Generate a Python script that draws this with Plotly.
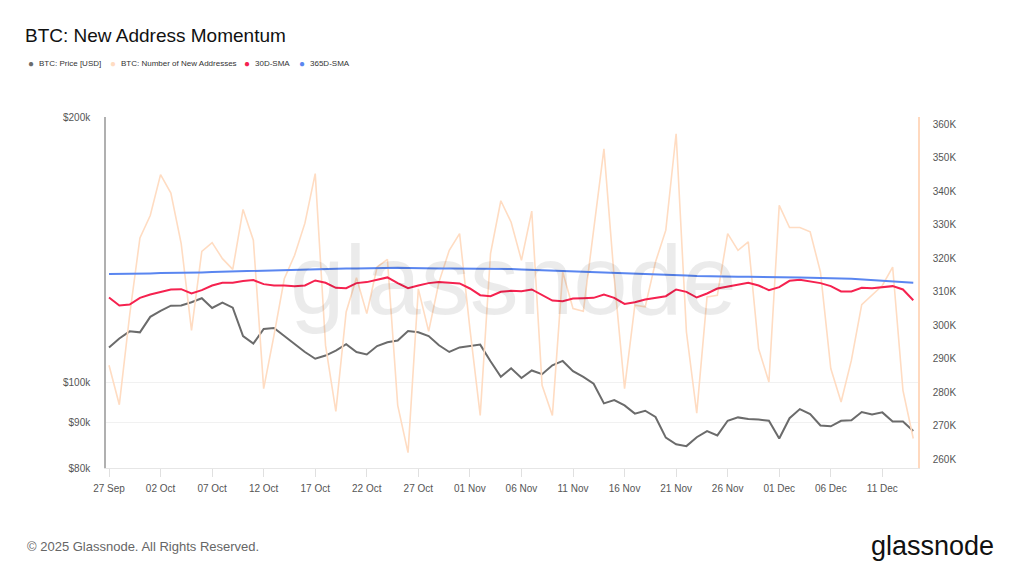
import pandas as pd
import plotly.graph_objects as go

# ---------------- data ----------------
start_date = "2025-09-27"
n_days = 79
dates = pd.date_range(start_date, periods=n_days, freq="D")

price_usd = [
    109600, 112200, 114300, 114000, 118700, 120600, 122200, 122300, 123300, 124600,
    121500, 123200, 121600, 112900, 110700, 115000, 115300, 112900, 110600, 108300,
    106400, 107300, 108700, 110500, 108300, 107600, 110000, 111100, 111600, 114400,
    114000, 112900, 110200, 108300, 109600, 110000, 110400, 105700, 101500,
    103800, 101200, 103200, 102200, 104600, 105800, 103000, 101500, 99700, 94700,
    95500, 94200, 92200, 92900, 91400, 86600, 85100, 84700, 86700, 88100,
    87100, 90500, 91300, 90900, 90800, 90500, 86400, 91100, 93300, 92100,
    89400, 89200, 90500, 90600, 92600, 92000, 92500, 90300, 90300, 88100,
]

new_addresses = [
    288100, 276300, 303000, 326100, 332800, 345000, 339500, 324400, 298500, 322100,
    324700, 319900, 316700, 334600, 325400, 281100, 297000, 313900, 320900, 330500,
    345300, 294000, 274300, 304000, 314200, 303500, 317400, 319700, 276100, 262000,
    310900, 298200, 312900, 322400, 327400, 299000, 273100, 321400, 337200,
    330800, 319400, 334100, 282100, 273100, 315900, 305000, 304200, 327900, 352700,
    314000, 281100, 306000, 305500, 318900, 328400, 357200, 298000, 273800, 308500,
    309000, 327400, 322400, 324900, 293000, 283100, 335800, 329200, 329200, 327900,
    315900, 287100, 277100, 289600, 306200, 309200, 311900, 317400, 280600, 266200,
]

sma_30d = [
    308300, 305900, 306200, 308200, 309200, 309900, 310700, 310800, 309500, 310500,
    311900, 312700, 312700, 313200, 313500, 312300, 311900, 311900, 311700, 311900,
    313400, 312700, 311200, 311100, 312600, 312900, 313600, 314300, 312600, 311100,
    311900, 312600, 312900, 312700, 312500, 311000, 309000, 308700, 310000,
    310300, 310200, 310700, 309000, 307400, 307200, 308000, 308100, 308200, 309200,
    308200, 306400, 306900, 307700, 308200, 308700, 310700, 310000, 308300, 309500,
    311000, 311600, 312300, 312700, 311900, 310500, 311400, 313300, 313600, 313200,
    312600, 311700, 310100, 310100, 311200, 311100, 311400, 311700, 310700, 307500,
]

sma_365d = [
    315300, 315300, 315400, 315400, 315500, 315600, 315600, 315700, 315700, 315800,
    315900, 316000, 316000, 316100, 316300, 316400, 316500, 316600, 316700, 316800,
    316900, 316900, 317000, 317000, 317000, 317100, 317200, 317300, 317200, 317100,
    317000, 317000, 317000, 317000, 317000, 316900, 316900, 316900, 316900,
    316800, 316700, 316600, 316500, 316400, 316200, 316100, 315900, 315800, 315700,
    315600, 315500, 315400, 315400, 315300, 315200, 315000, 314900, 314700, 314600,
    314600, 314600, 314500, 314500, 314500, 314400, 314400, 314300, 314300, 314200,
    314200, 314100, 314000, 313900, 313700, 313500, 313400, 313200, 313000, 312700,
]

x_tick_dates = ["2025-09-27", "2025-10-02", "2025-10-07", "2025-10-12", "2025-10-17",
                "2025-10-22", "2025-10-27", "2025-11-01", "2025-11-06", "2025-11-11",
                "2025-11-16", "2025-11-21", "2025-11-26", "2025-12-01", "2025-12-06",
                "2025-12-11"]
x_tick_labels = ["27 Sep", "02 Oct", "07 Oct", "12 Oct", "17 Oct", "22 Oct", "27 Oct",
                 "01 Nov", "06 Nov", "11 Nov", "16 Nov", "21 Nov", "26 Nov", "01 Dec",
                 "06 Dec", "11 Dec"]
price_tick_vals = [80000, 90000, 100000, 200000]
price_tick_labels = ["$80k", "$90k", "$100k", "$200k"]
addr_tick_vals = [260000, 270000, 280000, 290000, 300000, 310000, 320000, 330000,
                  340000, 350000, 360000]
addr_tick_labels = ["260K", "270K", "280K", "290K", "300K", "310K", "320K", "330K",
                    "340K", "350K", "360K"]

series_names = ["BTC: Price [USD]", "BTC: Number of New Addresses", "30D-SMA", "365D-SMA"]
series_colors = ["#6b6b6b", "#ffdcc2", "#f5224f", "#5a86f0"]

# ---------------- layout helpers ----------------
W, H = 1024, 576
L, R, T, B = 106, 918, 117, 468
FONT = "Liberation Sans, Arial, Helvetica, sans-serif"


def px(x):
    return (x - L) / (R - L)


def py(y):
    return (B - y) / (B - T)


fig = go.Figure()

fig.add_trace(go.Scatter(x=dates, y=price_usd, name=series_names[0], yaxis="y",
                         mode="lines", line=dict(color=series_colors[0], width=2)))
fig.add_trace(go.Scatter(x=dates, y=new_addresses, name=series_names[1], yaxis="y2",
                         mode="lines", line=dict(color=series_colors[1], width=1.6)))
fig.add_trace(go.Scatter(x=dates, y=sma_30d, name=series_names[2], yaxis="y2",
                         mode="lines", line=dict(color=series_colors[2], width=2)))
fig.add_trace(go.Scatter(x=dates, y=sma_365d, name=series_names[3], yaxis="y2",
                         mode="lines", line=dict(color=series_colors[3], width=2)))

annotations = []
# legend (manual, dots + text)
legend_pos = [(31, 37), (113, 119), (247, 253), (302, 308)]
for (dx, tx), name, col in zip(legend_pos, series_names, series_colors):
    annotations.append(dict(x=px(dx), y=py(63), xref="paper", yref="paper",
                            text="●", showarrow=False, xanchor="center", yanchor="middle",
                            font=dict(size=10, color=col, family=FONT)))
    annotations.append(dict(x=px(tx), y=py(63), xref="paper", yref="paper",
                            text=name, showarrow=False, xanchor="left", yanchor="middle",
                            font=dict(size=8, color="#333333", family=FONT)))

# watermark
annotations.append(dict(x=px(513), y=py(280), xref="paper", yref="paper", text="glassnode",
                        showarrow=False, xanchor="center", yanchor="middle",
                        font=dict(size=98, color="rgba(0,0,0,0.08)", family=FONT)))
# footer
annotations.append(dict(x=px(25), y=py(546), xref="paper", yref="paper",
                        text="© 2025 Glassnode. All Rights Reserved.", showarrow=False,
                        xanchor="left", yanchor="middle",
                        font=dict(size=13, color="#666666", family=FONT)))
annotations.append(dict(x=px(996), y=py(546), xref="paper", yref="paper",
                        text="glassnode", showarrow=False, xanchor="right", yanchor="middle",
                        font=dict(size=27, color="#111111", family=FONT)))

fig.update_layout(
    width=W, height=H,
    margin=dict(l=L, r=W - R, t=T, b=H - B, pad=0),
    paper_bgcolor="white", plot_bgcolor="white",
    showlegend=False,
    font=dict(family=FONT, color="#555555", size=10),
    title=dict(text="BTC: New Address Momentum", x=25 / W, xref="container",
               xanchor="left", y=1 - 35 / H, yanchor="middle",
               font=dict(size=19, color="#111111", family=FONT)),
    xaxis=dict(
        type="date",
        range=["2025-09-26 17:00", "2025-12-14 11:00"],
        tickvals=x_tick_dates, ticktext=x_tick_labels,
        showgrid=False, zeroline=False,
        showline=True, linecolor="#e6e6e6", linewidth=1,
        ticks="outside", ticklen=8, tickcolor="#e0e0e0",
        ticklabelstandoff=3,
        tickfont=dict(size=10, color="#555555"),
    ),
    yaxis=dict(
        type="log",
        range=[4.90309, 5.30103],
        tickvals=price_tick_vals, ticktext=price_tick_labels,
        showgrid=True, gridcolor="#f1f1f1", gridwidth=1,
        zeroline=False,
        showline=True, linecolor="#b0b0b0", linewidth=1.5,
        ticks="", ticklabelstandoff=12,
        tickfont=dict(size=10, color="#555555"),
    ),
    yaxis2=dict(
        overlaying="y", side="right",
        range=[257400, 362200],
        tickvals=addr_tick_vals, ticktext=addr_tick_labels,
        showgrid=False, zeroline=False,
        showline=True, linecolor="#ffd9bf", linewidth=1.5,
        ticks="", ticklabelstandoff=11,
        tickfont=dict(size=10, color="#555555"),
    ),
    annotations=annotations,
)

fig.write_html("out.html")
